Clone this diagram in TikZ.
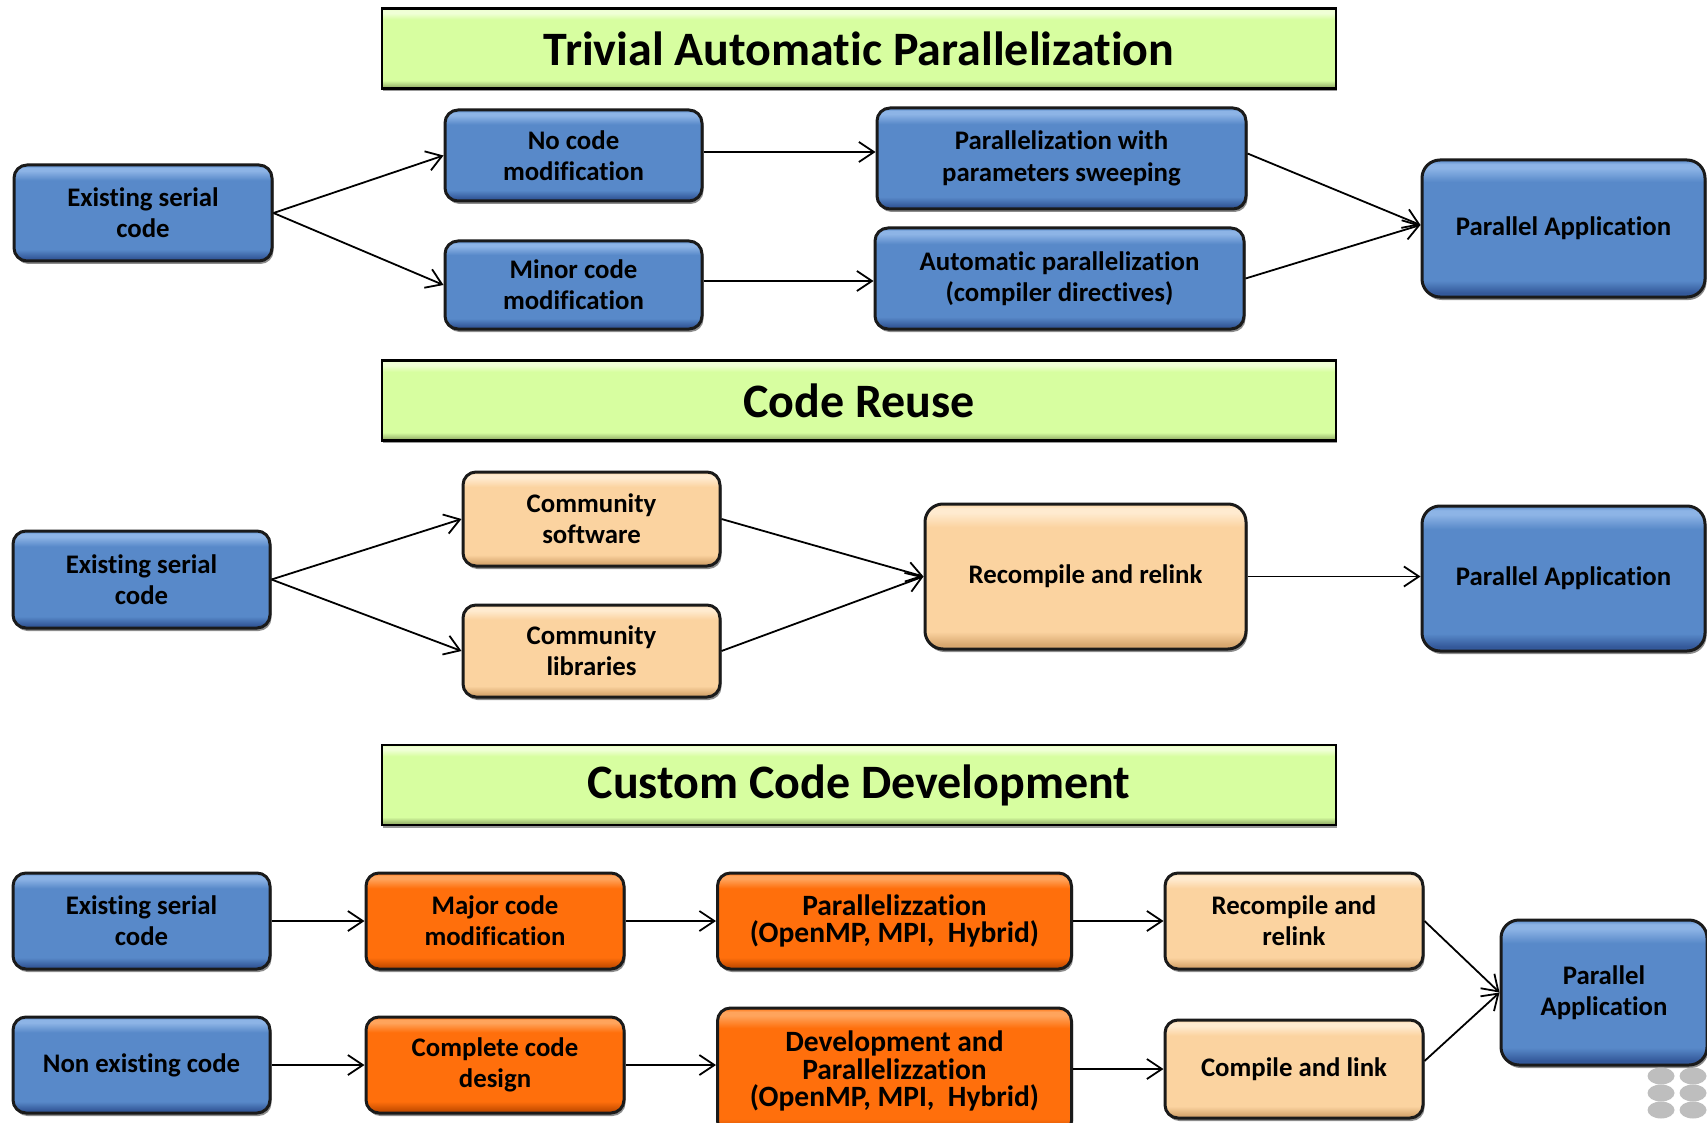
\documentclass[tikz,border=0pt]{standalone}
\usepackage{fontspec}
\setmainfont{Carlito}[Ligatures=NoCommon]
\usetikzlibrary{arrows.meta,shadows}

% palette
\definecolor{edge}{HTML}{1A1A1A}
\definecolor{bbase}{HTML}{5889C9}
\definecolor{bdk}{HTML}{34599A}
\definecolor{blt}{HTML}{8DB4E6}
\definecolor{obase}{HTML}{FF6F0C}
\definecolor{odk}{HTML}{C84E00}
\definecolor{olt}{HTML}{FFA45C}
\definecolor{pbase}{HTML}{FBD3A0}
\definecolor{pdk}{HTML}{D8A870}
\definecolor{plt}{HTML}{FFEBD0}
\definecolor{gbase}{HTML}{D7FEA0}
\definecolor{gdk}{HTML}{98B46C}
\definecolor{glt}{HTML}{F0FFD6}
\definecolor{dots}{HTML}{BEBEBE}

% bevelled fills: dark strip at the bottom, light strip at the top
\pgfdeclareverticalshading{bluebev}{100bp}{color(0bp)=(bdk); color(25bp)=(bdk); color(26.5bp)=(bdk); color(31bp)=(bbase); color(67bp)=(bbase); color(72bp)=(blt); color(73.5bp)=(blt); color(75bp)=(bbase); color(100bp)=(bbase)}
\pgfdeclareverticalshading{orangebev}{100bp}{color(0bp)=(odk); color(25bp)=(odk); color(26.5bp)=(odk); color(31bp)=(obase); color(67bp)=(obase); color(72bp)=(olt); color(73.5bp)=(olt); color(75bp)=(obase); color(100bp)=(obase)}
\pgfdeclareverticalshading{peachbev}{100bp}{color(0bp)=(pdk); color(25bp)=(pdk); color(26.5bp)=(pdk); color(31bp)=(pbase); color(67bp)=(pbase); color(72bp)=(plt); color(73.5bp)=(plt); color(75bp)=(pbase); color(100bp)=(pbase)}
\pgfdeclareverticalshading{greenbev}{100bp}{color(0bp)=(gdk); color(25bp)=(gdk); color(26bp)=(gdk); color(30bp)=(gbase); color(68bp)=(gbase); color(72bp)=(glt); color(74bp)=(glt); color(75bp)=(gbase); color(100bp)=(gbase)}

\tikzset{
  box/.style={rectangle, rounded corners=13pt, draw=edge, line width=3pt,
    align=center, inner sep=0pt, text=black,
    drop shadow={shadow xshift=1.5pt, shadow yshift=-3pt, opacity=0.45, fill=black},
    font=\bfseries\fontsize{26.8}{31}\selectfont},
  bluebox/.style={box, shade, shading=bluebev},
  orangebox/.style={box, shade, shading=orangebev,
    font=\bfseries\fontsize{29.5}{27.5}\selectfont},
  peachbox/.style={box, shade, shading=peachbev},
  titlebox/.style={rectangle, draw=black, line width=2.5pt, shade, shading=greenbev,
    drop shadow={shadow xshift=1pt, shadow yshift=-2.5pt, opacity=0.4, fill=black},
    minimum width=954pt, minimum height=80pt, inner sep=0pt, text=black,
    font=\bfseries\fontsize{48}{52}\selectfont},
  conn/.style={draw=black, line width=1.8pt,
    -{Straight Barb[length=15pt,width=20pt,line width=1.8pt]}},
  logodot/.style={fill=dots, draw=none}
}

\begin{document}
\begin{tikzpicture}[x=1pt,y=-1pt]
\useasboundingbox (0,0) rectangle (1707,1123);
\fill[white] (0,0) rectangle (1707,1123);

% ---- section titles
\node[titlebox] (t1) at (859,48.5) {Trivial Automatic Parallelization};
\node[titlebox] (t2) at (859,400.5) {Code Reuse};
\node[titlebox] (t3) at (859,785) {Custom Code Development};

% ---- trivial automatic parallelization
\node[bluebox, minimum width=258pt, minimum height=96pt]  (esc1)   at (143,213)    {Existing serial\\code};
\node[bluebox, minimum width=257pt, minimum height=91pt]  (nocode) at (573.5,155.5) {No code\\modification};
\node[bluebox, minimum width=257pt, minimum height=88pt]  (minor)  at (573.5,285)   {Minor code\\modification};
\node[bluebox, minimum width=369pt, minimum height=101pt, font=\bfseries\fontsize{26.8}{32}\selectfont]
                                                          (param)  at (1061.5,158.5) {Parallelization with\\parameters sweeping};
\node[bluebox, minimum width=369pt, minimum height=101pt] (auto)   at (1059.5,278.5) {Automatic parallelization\\(compiler directives)};
\node[bluebox, rounded corners=18pt, minimum width=283pt, minimum height=137pt]
                                                          (pa1)    at (1563.5,228.5) {Parallel Application};

% (yshift is measured upwards on the page)
\draw[conn] (esc1.east) -- (nocode.west);
\draw[conn] (esc1.east) -- (minor.west);
\draw[conn] ([yshift=3.5pt]nocode.east) -- ([yshift=3.5pt]nocode.east -| param.west);
\draw[conn] ([yshift=4pt]minor.east) -- ([yshift=4pt]minor.east -| auto.west);
\draw[conn] ([yshift=5pt]param.east) -- ([yshift=3.5pt]pa1.west);
\draw[conn] (auto.east) -- ([yshift=3.5pt]pa1.west);

% ---- code reuse
\node[bluebox, minimum width=257pt, minimum height=97pt]  (esc2) at (141.5,579.5) {Existing serial\\code};
\node[peachbox, minimum width=257pt, minimum height=94pt] (csw)  at (591.5,519)   {Community\\software};
\node[peachbox, minimum width=257pt, minimum height=92pt] (clib) at (591.5,651)   {Community\\libraries};
\node[peachbox, rounded corners=18pt, minimum width=321pt, minimum height=145pt]
                                                          (rr2)  at (1085.5,576.5) {Recompile and relink};
\node[bluebox, rounded corners=18pt, minimum width=283pt, minimum height=145pt]
                                                          (pa2)  at (1563.5,578.5) {Parallel Application};

\draw[conn] (esc2.east) -- (csw.west);
\draw[conn] (esc2.east) -- (clib.west);
\draw[conn] (csw.east) -- (rr2.west);
\draw[conn] (clib.east) -- (rr2.west);
\draw[conn] (rr2.east) -- (rr2.east -| pa2.west);

% ---- custom code development
\node[bluebox, minimum width=257pt, minimum height=96pt]   (esc3)  at (141.5,921)  {Existing serial\\code};
\node[bluebox, minimum width=257pt, minimum height=96pt]   (nec)   at (141.5,1065) {Non existing code};
\node[orangebox, minimum width=258pt, minimum height=96pt, font=\bfseries\fontsize{26.8}{31}\selectfont]
                                                           (major) at (495,921)    {Major code\\modification};
\node[orangebox, minimum width=258pt, minimum height=96pt, font=\bfseries\fontsize{26.8}{31}\selectfont]
                                                           (ccd)   at (495,1065)   {Complete code\\design};
\node[orangebox, minimum width=354pt, minimum height=96pt] (par3)  at (894.5,921)  {Parallelizzation\\(OpenMP, MPI,\ \ Hybrid)};
\node[orangebox, minimum width=354pt, minimum height=126pt](dev)   at (894.5,1071) {Development and\\Parallelizzation\\(OpenMP, MPI,\ \ Hybrid)};
\node[peachbox, minimum width=258pt, minimum height=96pt]  (rr3)   at (1294,921)   {Recompile and\\relink};
\node[peachbox, minimum width=258pt, minimum height=98pt]  (cal)   at (1294,1069)  {Compile and link};
\node[bluebox, rounded corners=18pt, minimum width=206pt, minimum height=145pt]
                                                           (pa3)   at (1604,992.5) {Parallel\\Application};

\draw[conn] (esc3.east) -- (major.west);
\draw[conn] (nec.east) -- (ccd.west);
\draw[conn] (major.east) -- (par3.west);
\draw[conn] (ccd.east) -- (ccd.east -| dev.west);
\draw[conn] (par3.east) -- (rr3.west);
\draw[conn] (dev.east |- cal.west) -- (cal.west);
\draw[conn] (rr3.east) -- (pa3.west);
\draw[conn] ([yshift=8pt]cal.east) -- (pa3.west);

% ---- small grey mark in the corner
\foreach \cx in {1661,1693}
  \foreach \cy in {1076,1093,1110}
    \fill[logodot] (\cx,\cy) ellipse [x radius=13.5pt, y radius=8.5pt];
\end{tikzpicture}
\end{document}
